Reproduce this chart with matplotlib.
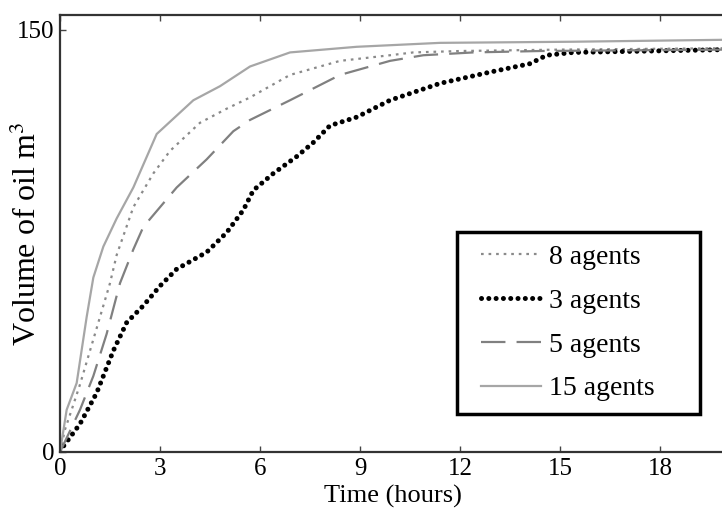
import matplotlib
matplotlib.use('Agg')
import matplotlib.pyplot as plt
from matplotlib.lines import Line2D
from matplotlib.legend_handler import HandlerLine2D

plt.rcParams['font.family'] = ['Liberation Serif', 'DejaVu Serif']
plt.rcParams['mathtext.fontset'] = 'stix'

# time (hours) / volume (m^3)
t_8 = [0, 0.15, 0.35, 0.6, 0.9, 1.2, 1.5, 1.7, 2.2, 2.8, 3.3, 4.2, 5.0, 5.7, 6.9, 8.4, 9.9, 10.6, 12, 15, 20]
v_8 = [0, 8, 15, 24, 36, 48, 60, 70, 87, 99, 107, 117, 122, 126, 134, 139, 141, 142, 142.5, 143, 143.5]

t_3 = [0, 0.1, 0.6, 1.1, 1.6, 2.0, 2.5, 3.0, 3.5, 4.4, 5.0, 5.5, 5.8, 6.4, 7.1, 7.6, 8.1, 8.9, 9.9, 11.4, 12.9, 14.1, 14.6, 15.4, 20]
v_3 = [0, 2, 10, 21, 36, 46, 52, 59, 65, 71, 78, 86, 93, 99, 105, 110, 116, 119, 125, 131, 135, 138, 141, 142, 143]

t_5 = [0, 0.2, 0.6, 1.0, 1.4, 1.8, 2.2, 2.5, 3.0, 3.5, 4.4, 5.2, 5.7, 6.9, 8.4, 9.9, 10.9, 12.4, 14.4, 20]
v_5 = [0, 5, 15, 27, 42, 60, 72, 80, 87, 94, 104, 114, 118, 125, 134, 139, 141, 142, 142.5, 143]

t_15 = [0, 0.2, 0.5, 0.8, 1.0, 1.3, 1.7, 2.2, 2.9, 4.0, 4.8, 5.7, 6.9, 8.9, 11.4, 15.4, 20]
v_15 = [0, 15, 24.5, 48, 62, 73, 83, 94, 113, 125, 130, 137, 142, 144, 145.4, 145.8, 146.5]

x_ticks = [0, 3, 6, 9, 12, 15, 18]
y_ticks = [0, 150]

fig = plt.figure(figsize=(7.22, 5.18), dpi=100)
ax = fig.add_axes([60 / 722, 66 / 518, 666.7 / 722, 437 / 518])

ax.plot(t_8, v_8, color='#8a8a8a', lw=1.6, dashes=(1.2, 2.2), label='8 agents')
ax.plot(t_3, v_3, color='black', lw=3.6, dashes=(0.01, 1.45), dash_capstyle='round', label='3 agents')
ax.plot(t_5, v_5, color='#808080', lw=1.6, dashes=(11, 5), label='5 agents')
ax.plot(t_15, v_15, color='#a6a6a6', lw=1.6, label='15 agents')

ax.set_xlim(0, 20)
ax.set_ylim(0, 155.3)
ax.set_xticks(x_ticks)
ax.set_yticks(y_ticks)
ax.tick_params(direction='in', length=4, width=1, top=True, labelsize=18, pad=4, colors='#444444', labelcolor='black')
for s in ax.spines.values():
    s.set_linewidth(1.6)
    s.set_color('#333333')

ax.set_xlabel('Time (hours)', fontsize=19, labelpad=4)
ax.set_ylabel('Volume of oil m$^3$', fontsize=23)
ax.yaxis.set_label_coords(-0.026, 0.5)

leg = ax.legend(loc='upper left', bbox_to_anchor=(0.595, 0.089, 0.365, 0.414), mode='expand',
                fontsize=20, handlelength=2.6, handletextpad=0.29, labelspacing=0.66,
                borderpad=0.45, borderaxespad=0, fancybox=False, framealpha=1,
                handler_map={Line2D: HandlerLine2D(xpad=0.43)})
leg.get_frame().set_edgecolor('black')
leg.get_frame().set_linewidth(2.5)

fig.savefig('out.png', dpi=100)
